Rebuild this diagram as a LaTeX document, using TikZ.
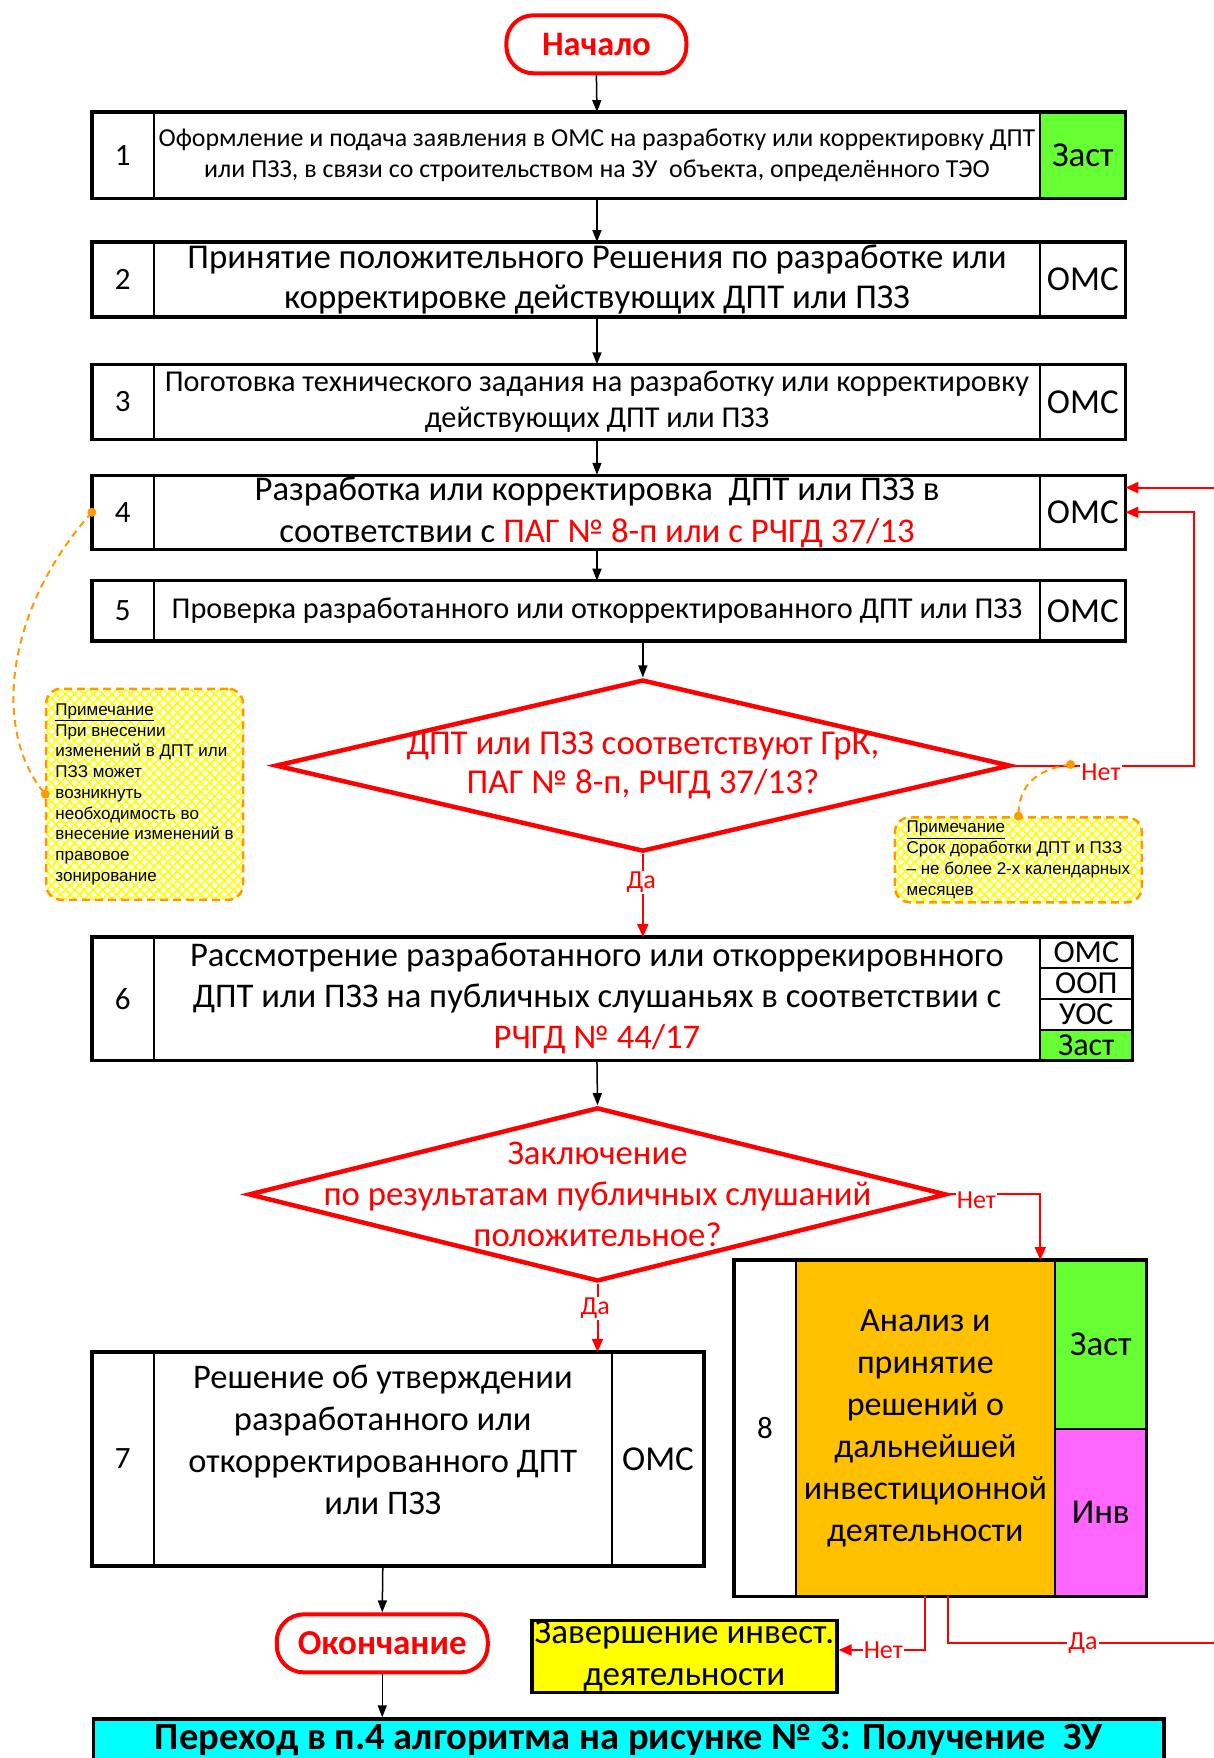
\documentclass[tikz,border=0pt]{standalone}
\usepackage{fontspec}
\setmainfont{Carlito}
\newfontfamily\notefont{Liberation Sans}
\usepackage{xcolor}
\usepackage{tikz}
\usetikzlibrary{shapes.geometric,arrows.meta,positioning,patterns.meta}
\definecolor{zast}{RGB}{102,255,51}
\definecolor{inv}{RGB}{255,102,255}
\definecolor{anal}{RGB}{255,192,0}
\definecolor{finish}{RGB}{255,255,0}
\definecolor{pass}{RGB}{0,255,255}
\definecolor{noteorange}{RGB}{255,153,0}
\definecolor{hatch}{RGB}{255,255,0}
\newcommand{\fsz}[2]{\fontsize{#1}{#2}\selectfont}

\begin{document}
\begin{tikzpicture}[x=1pt, y=-1pt,
  cell/.style={draw, line width=2pt, outer sep=0pt, inner sep=2pt, align=center, minimum height=#1},
  numcell/.style={cell=#1, minimum width=61.7pt, font=\fsz{31}{36}},
  rolecell/.style={cell=#1, minimum width=85.1pt, font=\fsz{35}{40}},
  boxframe/.style={line width=3.5pt},
  flow/.style={line width=1.5pt, -{Triangle[length=12pt,width=9pt]}},
  rflow/.style={red, line width=2pt, -{Triangle[length=13pt,width=11pt]}},
  yesno/.style={text=red, fill=white, inner sep=1pt, font=\fsz{26}{30}},
  terminal/.style={draw=red, line width=4pt, rounded corners=27pt, fill=white, text=red, font=\bfseries\fsz{#1}{40}, minimum height=58pt},
  decision/.style={diamond, draw=red, line width=4.5pt, inner sep=0pt, minimum width=#1},
  dtext/.style={text=red, align=center},
  note/.style={draw=noteorange, line width=2.5pt, dash pattern=on 8pt off 5pt, rounded corners=15pt,
    preaction={fill=white},
    preaction={pattern={Lines[angle=45,distance=6.6pt,line width=1.6pt]}, pattern color=hatch},
    pattern={Lines[angle=-45,distance=6.6pt,line width=1.6pt]}, pattern color=hatch,
    font=\notefont\fsz{17}{20.7}, align=left, inner sep=2pt},
  noteline/.style={noteorange, line width=2pt, dash pattern=on 7pt off 5pt}
]
  \path[use as bounding box, fill=white] (0,0) rectangle (1214,1758);

  % start
  \node[terminal=34.3, minimum width=180pt] (start) at (596.4,44.3) {Начало};

  % step 1
  \node[numcell=86.3] (n1) at (122.75,155.25) {1};
  \node[cell=86.3, right=0pt of n1, minimum width=886.7pt, font=\fsz{25.9}{31}] (t1) {Оформление и подача заявления в ОМС на разработку или корректировку ДПТ\\или ПЗЗ, в связи со строительством на ЗУ\ \ объекта, определённого ТЭО};
  \node[rolecell=86.3, right=0pt of t1, fill=zast] (r1) {Заст};
  \draw[boxframe] (n1.north west) rectangle (r1.south east);

  % step 2
  \node[numcell=75.1] (n2) at (122.75,279.65) {2};
  \node[cell=75.1, right=0pt of n2, minimum width=886.7pt, font=\fsz{34.8}{40}] (t2) {Принятие положительного Решения по разработке или\\корректировке действующих ДПТ или ПЗЗ};
  \node[rolecell=75.1, right=0pt of t2] (r2) {ОМС};
  \draw[boxframe] (n2.north west) rectangle (r2.south east);

  % step 3
  \node[numcell=75.1] (n3) at (122.75,401.85) {3};
  \node[cell=75.1, right=0pt of n3, minimum width=886.7pt, font=\fsz{30.3}{36}] (t3) {Поготовка технического задания на разработку или корректировку\\действующих ДПТ или ПЗЗ};
  \node[rolecell=75.1, right=0pt of t3] (r3) {ОМС};
  \draw[boxframe] (n3.north west) rectangle (r3.south east);

  % step 4
  \node[numcell=74] (n4) at (122.75,512.3) {4};
  \node[cell=74, right=0pt of n4, minimum width=886.7pt, font=\fsz{34.7}{42}] (t4) {Разработка или корректировка\ \ ДПТ или ПЗЗ в\\соответствии с \textcolor{red}{ПАГ № 8-п или с РЧГД 37/13}};
  \node[rolecell=74, right=0pt of t4] (r4) {ОМС};
  \draw[boxframe] (n4.north west) rectangle (r4.south east);

  % step 5
  \node[numcell=60.5] (n5) at (122.75,610.95) {5};
  \node[cell=60.5, right=0pt of n5, minimum width=886.7pt, font=\fsz{30.3}{35}] (t5) {Проверка разработанного или откорректированного ДПТ или ПЗЗ};
  \node[rolecell=60.5, right=0pt of t5] (r5) {ОМС};
  \draw[boxframe] (n5.north west) rectangle (r5.south east);

  % check 1
  \node[decision=735pt, minimum height=172pt] (d1) at (642.85,765.6) {};
  \node[dtext, font=\fsz{34.9}{39}] (d1t) at (d1.center) {ДПТ или ПЗЗ соответствуют ГрК,\\ПАГ № 8-п, РЧГД 37/13?};

  % notes
  \node[note, minimum width=197pt, minimum height=211pt] (nL) at (144.6,794.25) {\underline{Примечание}\\При внесении\\изменений в ДПТ или\\ПЗЗ может\\возникнуть\\необходимость во\\внесение изменений в\\правовое\\зонирование};
  \node[note, minimum width=247pt, minimum height=85pt] (nR) at (1018.4,859.8) {\underline{Примечание}\\Срок доработки ДПТ и ПЗЗ\\– не более 2-х календарных\\месяцев};

  % step 6
  \node[numcell=123.3] (n6) at (122.75,998.75) {6};
  \node[cell=123.3, right=0pt of n6, minimum width=886.7pt, font=\fsz{34.6}{41}] (t6) {Рассмотрение разработанного или откоррекировнного\\ДПТ или ПЗЗ на публичных слушаньях в соответствии с\\\textcolor{red}{РЧГД № 44/17}};
  \node[rolecell=30.825, minimum width=92pt, anchor=north west, font=\fsz{32}{32}] (r6a) at (t6.north east) {ОМС};
  \node[rolecell=30.825, minimum width=92pt, below=0pt of r6a, font=\fsz{32}{32}] (r6b) {ООП};
  \node[rolecell=30.825, minimum width=92pt, below=0pt of r6b, font=\fsz{32}{32}] (r6c) {УОС};
  \node[rolecell=30.825, minimum width=92pt, below=0pt of r6c, font=\fsz{32}{32}, fill=zast] (r6d) {Заст};
  \draw[boxframe] (n6.north west) rectangle (r6d.south east);

  % check 2
  \node[decision=698pt, minimum height=174pt] (d2) at (597.5,1194.4) {};
  \node[dtext, font=\fsz{34.7}{41}] (d2t) at (d2.center) {Заключение\\по результатам публичных слушаний\\положительное?};

  % step 7
  \node[numcell=214.1] (n7) at (122.75,1458.95) {7};
  \node[cell=214.1, right=0pt of n7, minimum width=458.4pt] (t7) {};
  \node[font=\fsz{34.5}{42}, align=center] (t7x) at ([yshift=19pt]t7.center) {Решение об утверждении\\разработанного или\\откорректированного ДПТ\\или ПЗЗ};
  \node[rolecell=214.1, right=0pt of t7, minimum width=92pt] (r7) {ОМС};
  \draw[boxframe] (n7.north west) rectangle (r7.south east);

  % step 8
  \node[numcell=336.3] (n8) at (765.05,1428.15) {8};
  \node[cell=336.3, right=0pt of n8, minimum width=258.9pt, fill=anal, font=\fsz{34}{42}] (t8) {Анализ и\\принятие\\решений о\\дальнейшей\\инвестиционной\\деятельности};
  \node[rolecell=169.2, minimum width=91.9pt, anchor=north west, fill=zast] (r8a) at (t8.north east) {Заст};
  \node[rolecell=167.1, minimum width=91.9pt, below=0pt of r8a, fill=inv] (r8b) {Инв};
  \draw[boxframe] (n8.north west) rectangle (r8b.south east);

  % end of investment
  \node[draw, line width=3.5pt, fill=finish, minimum width=305pt, minimum height=72pt, inner sep=1pt, align=center, font=\fsz{35}{41.5}] (quit) at (684.35,1656.25) {Завершение инвест.\\деятельности};

  % end
  \node[terminal=35, minimum width=211pt] (stop) at (382.25,1643.35) {Окончание};
  \node[draw, line width=3.5pt, fill=pass, anchor=north west, minimum width=1070.5pt, minimum height=100pt] (jump) at (91.9,1717.3) {};
  \node[font=\bfseries\fsz{38.5}{44}, anchor=north, inner sep=0pt] (jumpt) at ([yshift=-7pt]jump.north) {Переход в п.4 алгоритма на рисунке № 3: Получение\ \ ЗУ};

  % connectors
  \draw[flow] (start.south) -- (t1.north);
  \draw[flow] (t1.south) -- (t2.north);
  \draw[flow] (t2.south) -- (t3.north);
  \draw[flow] (t3.south) -- (t4.north);
  \draw[flow] (t4.south) -- (t5.north);
  \draw[flow] (d1.north |- t5.south) -- (d1.north);
  \draw[rflow] (d1.south) -- (d1.south |- t6.north);
  \draw[rflow] (d1.east) -- ++(181.6,0) |- (r4.east);
  \draw[flow] (t6.south) -- (d2.north);
  \draw[rflow] (d2.south) -- (d2.south |- t7.north);
  \draw[rflow] (d2.east) -| ([xshift=-14.5pt]t8.north east);
  \draw[flow] (t7.south) -- (stop.north);
  \draw[flow] (stop.south) -- (stop.south |- jump.north);
  \draw[rflow] (t8.south) |- ([yshift=6.25pt]quit.east);
  \draw[rflow] ([xshift=23pt]t8.south) -- ++(0,47) -- ++(300,0) |- ([yshift=24.7pt]r4.east);

  \node[yesno] (yes1) at (641.2,882.2) {Да};
  \node[yesno] (no1) at (1101,772) {Нет};
  \node[yesno] (yes2) at (595.2,1308.2) {Да};
  \node[yesno] (no2) at (976.4,1200.5) {Нет};
  \node[yesno] (no3) at (883.3,1650) {Нет};
  \node[yesno] (yes3) at (1082.9,1643.3) {Да};

  % note links
  \coordinate (c1) at (1070.5,764.5);
  \draw[noteline] (n4.west) .. controls +(-85,95) and +(-55,-65) .. (nL.west);
  \draw[noteline] (c1) .. controls +(-35,5) and +(0,-30) .. (nR.north);
  \foreach \p in {n4.west,nL.west,c1,nR.north} {
    \fill[noteorange] (\p) circle (4.5pt);
  }
\end{tikzpicture}
\end{document}
